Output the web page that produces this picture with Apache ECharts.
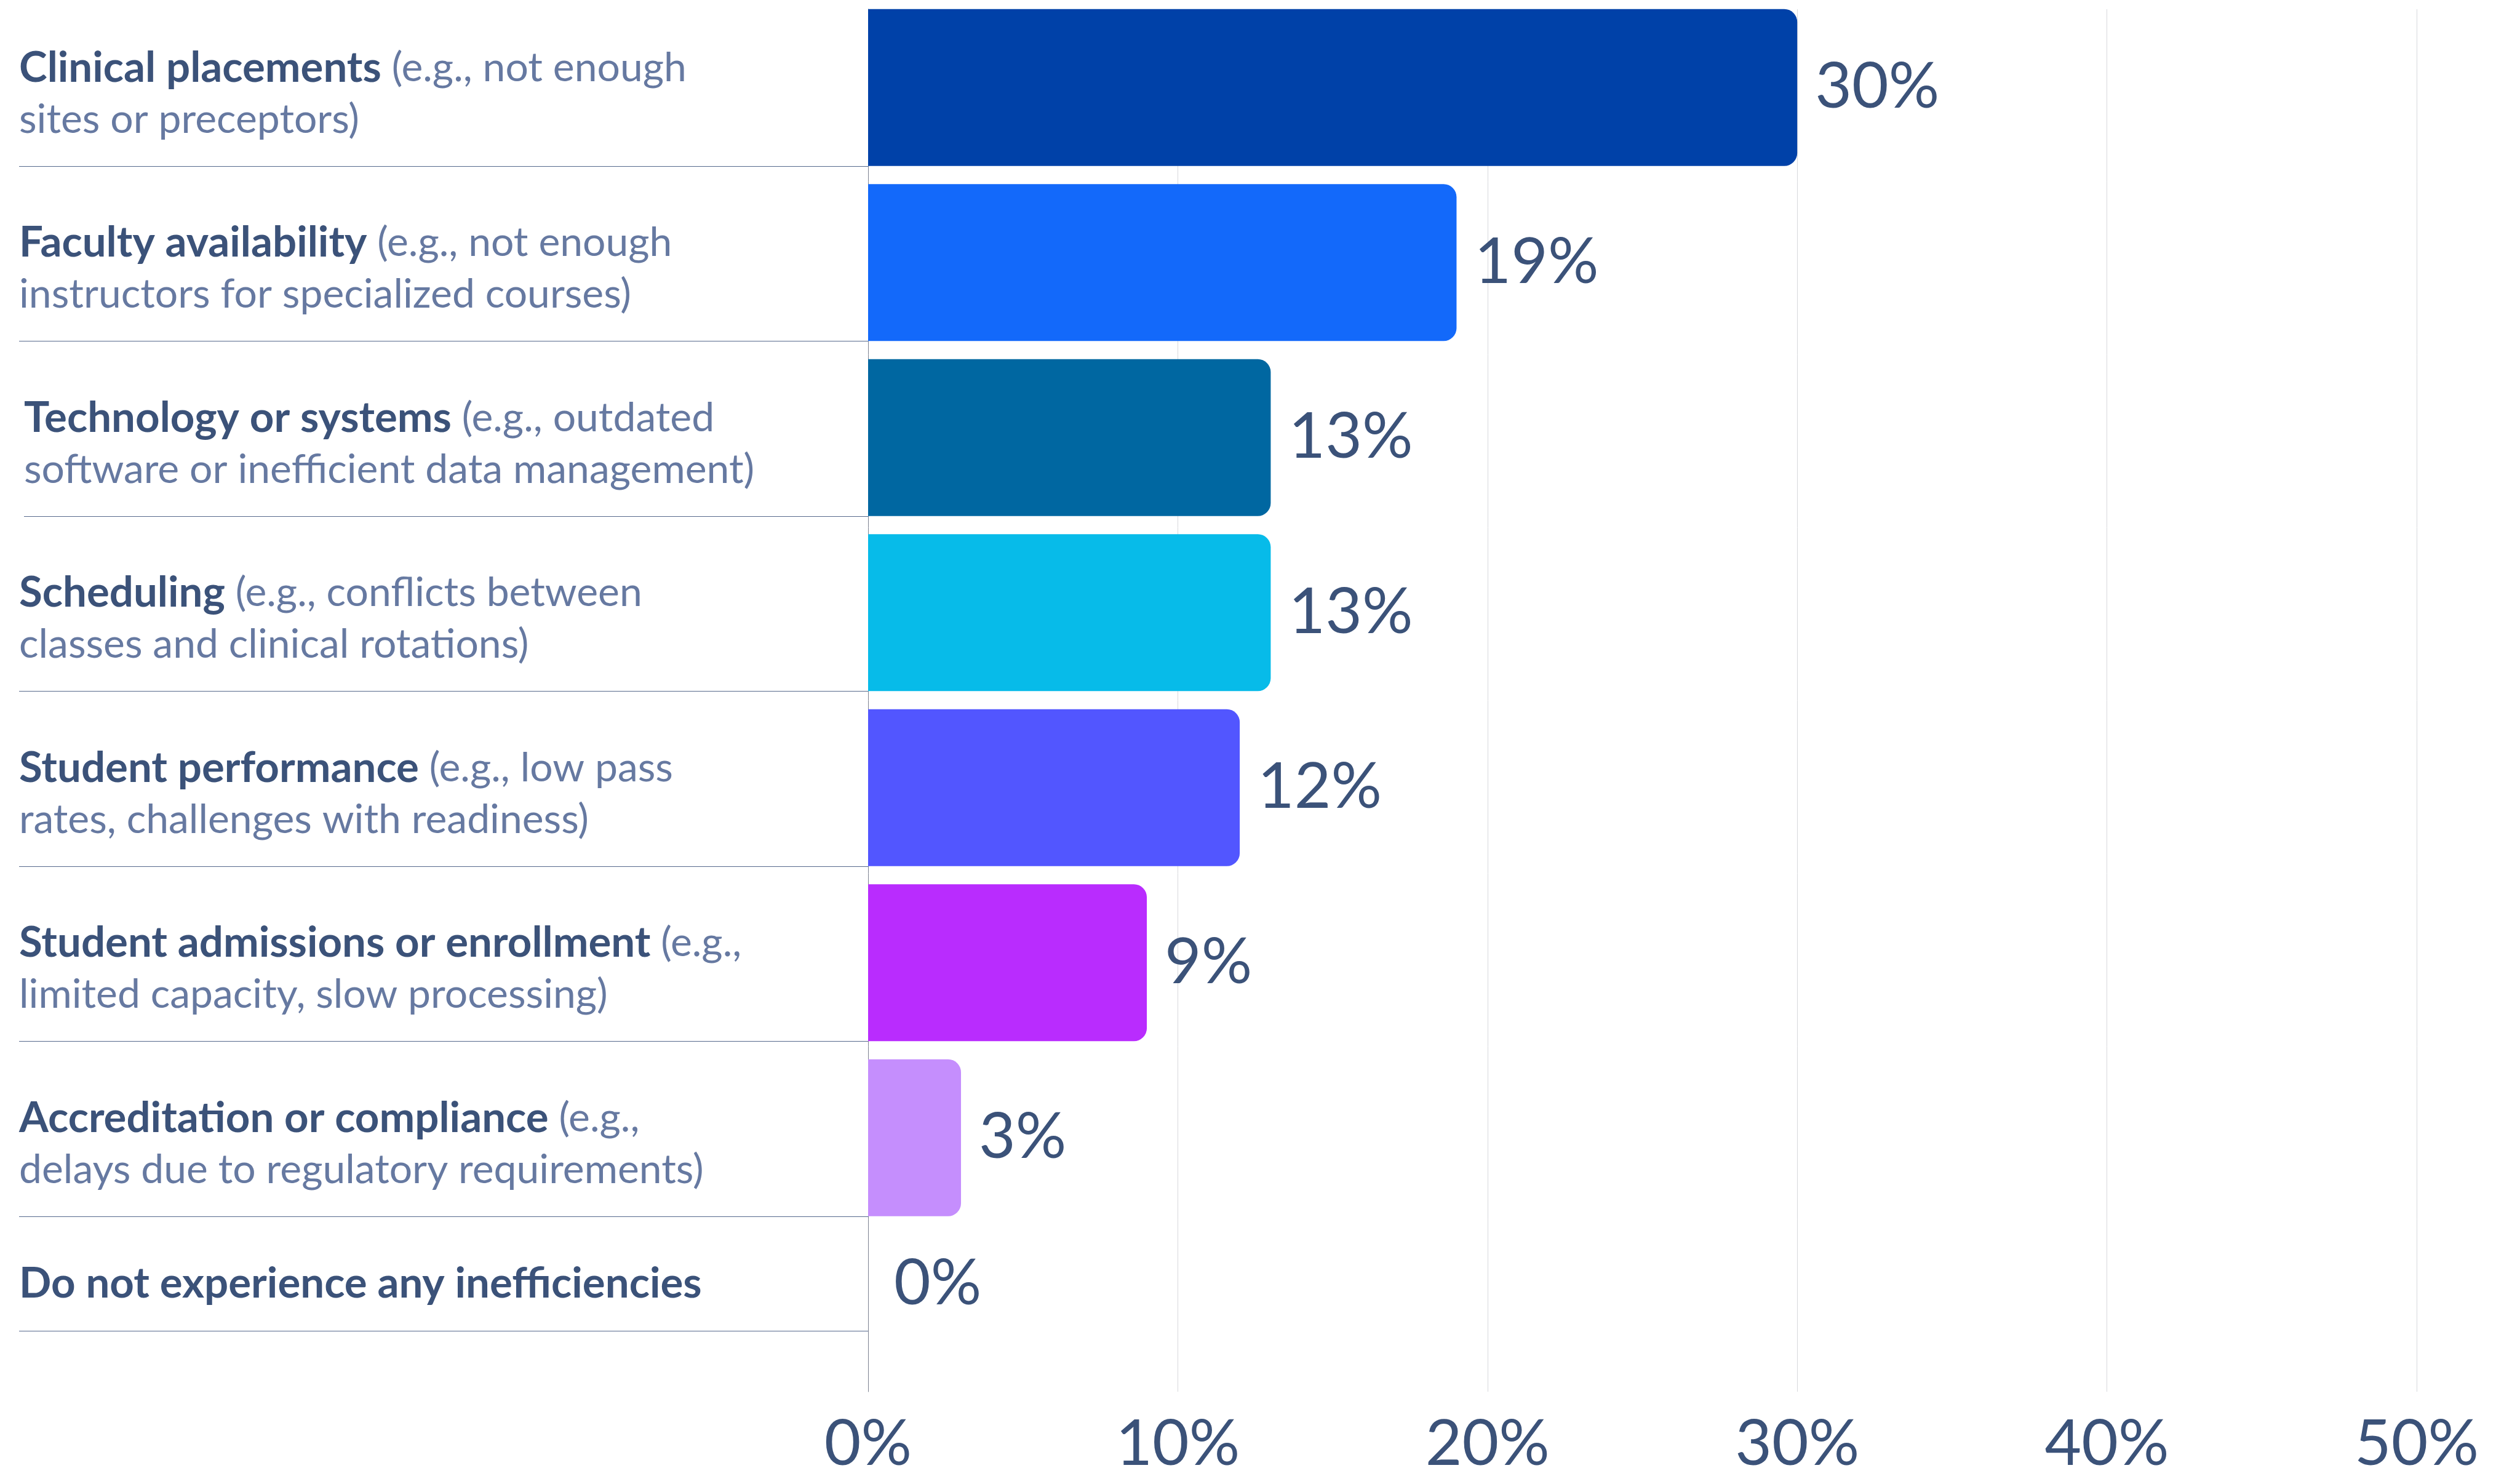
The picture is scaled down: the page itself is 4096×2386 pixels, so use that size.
<!DOCTYPE html>
<html>
<head>
<meta charset="utf-8">
<title>Sources of program inefficiency</title>
<script src="https://cdn.jsdelivr.net/npm/echarts@6/dist/echarts.min.js"></script>
<style>
  html, body { margin: 0; padding: 0; background: #ffffff; }
  #chart { width: 4096px; height: 2386px; }
</style>
</head>
<body>
<div id="chart"></div>
<script>
// Response categories: bold heading and the lighter example text that follows it
const titles = [
  'Clinical placements',
  'Faculty availability',
  'Technology or systems',
  'Scheduling',
  'Student performance',
  'Student admissions or enrollment',
  'Accreditation or compliance',
  'Do not experience any inefficiencies'
];
const notes = [
  '(e.g., not enough\nsites or preceptors)',
  '(e.g., not enough\ninstructors for specialized courses)',
  '(e.g., outdated\nsoftware or inefficient data management)',
  '(e.g., conflicts between\nclasses and clinical rotations)',
  '(e.g., low pass\nrates, challenges with readiness)',
  '(e.g.,\nlimited capacity, slow processing)',
  '(e.g.,\ndelays due to regulatory requirements)',
  ''
];
// Share of respondents, percent
const values = [30, 19, 13, 13, 12, 9, 3, 0];
// Percent ticks along the value axis
const xTicks = [0, 10, 20, 30, 40, 50];
// Bar fills, one per category
const palette = ['#0041a8', '#1369fa', '#0067a1', '#07bbe9', '#5256ff', '#b92cfe', '#c58efd', '#c58efd'];

const FONT = 'Lato, "Noto Sans", sans-serif';
const INK = '#3b5279';
const SOFT = '#6679a1';
const GRID_LEFT = 1411;
const GRID_W = 2517;
const LABEL_X = 31;
const BAR_W = 255;
const LAST = titles.length - 1;

const chart = echarts.init(document.getElementById('chart'), null, { renderer: 'canvas' });

const categoryData = titles.map((t, i) => {
  if (i === LAST) return { value: t, textStyle: { align: 'left', padding: [0, 0, 95, 0] } };
  if (i === 2) return { value: t, textStyle: { align: 'left', padding: [20, 0, 0, 8] } };
  return t;
});

const option = {
  backgroundColor: '#ffffff',
  animation: false,
  grid: [
    { left: GRID_LEFT, width: GRID_W, top: 0, height: 2276, outerBoundsMode: 'none', containLabel: false },
    { left: GRID_LEFT, width: GRID_W, top: 15, height: 2247, outerBoundsMode: 'none', containLabel: false }
  ],
  xAxis: [
    {
      gridIndex: 0, type: 'value',
      min: xTicks[0], max: xTicks[xTicks.length - 1], interval: xTicks[1] - xTicks[0],
      show: false
    },
    {
      gridIndex: 1, type: 'value',
      min: xTicks[0], max: xTicks[xTicks.length - 1], interval: xTicks[1] - xTicks[0],
      axisLine: { show: false },
      axisTick: { show: false },
      splitLine: { show: true, lineStyle: { color: '#d7d8dc', width: 1 } },
      axisLabel: {
        formatter: '{value}%', color: INK, fontFamily: FONT,
        fontSize: 103, fontWeight: 400, margin: 34
      }
    }
  ],
  yAxis: [
    {
      gridIndex: 0, type: 'category', inverse: true,
      data: categoryData,
      axisLine: { show: false },
      axisTick: { show: false },
      splitLine: { show: false },
      axisLabel: {
        margin: GRID_LEFT - LABEL_X,
        align: 'left',
        padding: [20, 0, 0, 0],
        lineHeight: 84,
        fontFamily: FONT,
        formatter: (value, idx) => {
          const note = notes[idx];
          if (!note) return '{b|' + value + '}';
          const parts = note.split('\n');
          return '{b|' + value + '}{r| ' + parts[0] + '}\n{r|' + parts[1] + '}';
        },
        rich: {
          b: { fontFamily: FONT, fontSize: 69, fontWeight: 700, color: INK, lineHeight: 84 },
          r: { fontFamily: FONT, fontSize: 66, fontWeight: 400, color: SOFT, lineHeight: 84 }
        }
      }
    },
    {
      gridIndex: 1, type: 'value', min: 0, max: 1,
      axisLine: { show: true, onZero: false, lineStyle: { color: '#7d8291', width: 1 } },
      axisTick: { show: false },
      axisLabel: { show: false },
      splitLine: { show: false }
    }
  ],
  series: [
    {
      type: 'bar',
      xAxisIndex: 0, yAxisIndex: 0,
      barWidth: BAR_W,
      z: 3,
      data: values.map((v, i) => {
        const item = { value: v, itemStyle: { color: palette[i] } };
        if (i === LAST) item.label = { offset: [13, -47] };
        return item;
      }),
      itemStyle: { borderRadius: [0, 21, 21, 0] },
      label: {
        show: true, position: 'right', distance: 29,
        formatter: '{c}%', color: INK, fontFamily: FONT, fontSize: 103, fontWeight: 400
      }
    },
    {
      // thin rules under each row of the label column
      type: 'custom',
      xAxisIndex: 0, yAxisIndex: 0,
      silent: true, clip: false, z: 1,
      data: titles.map((t, i) => [0, i]),
      encode: { x: 0, y: 1 },
      renderItem: (params, api) => {
        const i = params.dataIndex;
        const p = api.coord([0, i]);
        const dy = i === LAST ? 29 : BAR_W / 2;
        const y = Math.round(p[1] + dy) + 0.5;
        const x1 = LABEL_X + (i === 2 ? 8 : 0);
        return {
          type: 'line',
          shape: { x1: x1, y1: y, x2: p[0], y2: y },
          style: { stroke: '#56698c', lineWidth: 1.2 }
        };
      }
    }
  ]
};

chart.setOption(option);
</script>
</body>
</html>
